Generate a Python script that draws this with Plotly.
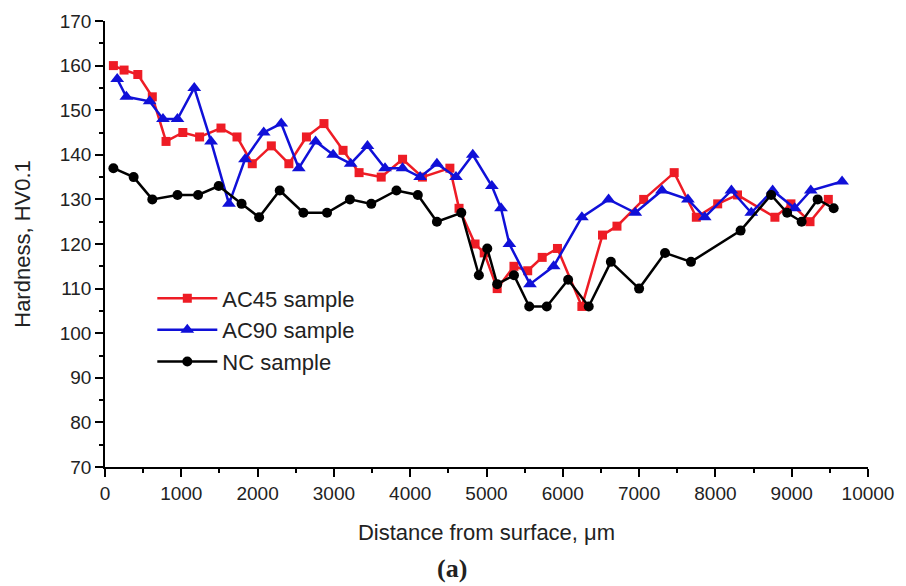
import plotly.graph_objects as go

# AC45 sample (red squares)
ac45_x = [110, 250, 430, 620, 800, 1020, 1240, 1520, 1730, 1930, 2180, 2410, 2640, 2870, 3120,
          3330, 3620, 3900, 4160, 4520, 4640, 4850, 4970, 5140, 5360, 5540, 5730, 5930, 6250,
          6520, 6710, 7060, 7460, 7750, 8030, 8290, 8780, 8990, 9240, 9480]
ac45_y = [160, 159, 158, 153, 143, 145, 144, 146, 144, 138, 142, 138, 144, 147, 141,
          136, 135, 139, 135, 137, 128, 120, 118, 110, 115, 114, 117, 119, 106,
          122, 124, 130, 136, 126, 129, 131, 126, 129, 125, 130]

# AC90 sample (blue triangles)
ac90_x = [160, 280, 585, 760, 950, 1170, 1390, 1625, 1835, 2080, 2310, 2540, 2760, 2990, 3220,
          3440, 3670, 3900, 4130, 4350, 4600, 4820, 5070, 5190, 5300, 5570, 5880, 6250, 6600,
          6950, 7300, 7640, 7860, 8210, 8470, 8750, 9040, 9250, 9660]
ac90_y = [157, 153, 152, 148, 148, 155, 143, 129, 139, 145, 147, 137, 143, 140, 138,
          142, 137, 137, 135, 138, 135, 140, 133, 128, 120, 111, 115, 126, 130,
          127, 132, 130, 126, 132, 127, 132, 128, 132, 134]

# NC sample (black circles)
nc_x = [110, 375, 620, 950, 1220, 1490, 1790, 2020, 2290, 2600, 2910, 3210, 3490, 3820, 4100,
        4350, 4670, 4900, 5010, 5140, 5360, 5560, 5790, 6070, 6340, 6630, 7000, 7340, 7680,
        8330, 8730, 8940, 9130, 9340, 9550]
nc_y = [137, 135, 130, 131, 131, 133, 129, 126, 132, 127, 127, 130, 129, 132, 131,
        125, 127, 113, 119, 111, 113, 106, 106, 112, 106, 116, 110, 118, 116,
        123, 131, 127, 125, 130, 128]

x_ticks = [0, 1000, 2000, 3000, 4000, 5000, 6000, 7000, 8000, 9000, 10000]
y_ticks = [70, 80, 90, 100, 110, 120, 130, 140, 150, 160, 170]

fig = go.Figure()
fig.add_trace(go.Scatter(x=ac45_x, y=ac45_y, mode="lines+markers", name="AC45 sample",
                         legendgroup="a",
                         line=dict(color="#ee1c25", width=2.5),
                         marker=dict(symbol="square", size=9, color="#ee1c25")))
fig.add_trace(go.Scatter(x=ac90_x, y=ac90_y, mode="lines+markers", name="AC90 sample",
                         legendgroup="b",
                         line=dict(color="#1010d8", width=2.5),
                         marker=dict(symbol="triangle-up", size=12, color="#1010d8")))
fig.add_trace(go.Scatter(x=nc_x, y=nc_y, mode="lines+markers", name="NC sample",
                         legendgroup="c",
                         line=dict(color="#000000", width=2.5),
                         marker=dict(symbol="circle", size=10, color="#000000")))

axis_common = dict(showgrid=False, zeroline=False, showline=True, linecolor="black", linewidth=1.5,
                   ticks="outside", tickcolor="black", ticklen=8, tickwidth=1.5,
                   tickfont=dict(family="Arial, Liberation Sans", size=19, color="#222"))

fig.update_xaxes(range=[0, 10000], tickvals=x_ticks, ticktext=[str(v) for v in x_ticks],
                 minor=dict(dtick=500, ticks="outside", ticklen=4, tickcolor="black", tickwidth=1.5),
                 title=dict(text="Distance from surface, \u03bcm", standoff=22,
                            font=dict(family="Arial, Liberation Sans", size=22, color="#222")),
                 **axis_common)
fig.update_yaxes(range=[70, 170], tickvals=y_ticks, ticktext=[str(v) for v in y_ticks],
                 minor=dict(dtick=5, ticks="outside", ticklen=4, tickcolor="black", tickwidth=1.5),
                 title=dict(text="Hardness, HV0.1", standoff=23,
                            font=dict(family="Arial, Liberation Sans", size=22, color="#222")),
                 **axis_common)

fig.add_annotation(text="<b>(a)</b>", x=0.455, y=-0.228, xref="paper", yref="paper",
                   xanchor="center", yanchor="middle", showarrow=False,
                   font=dict(family="Liberation Serif, DejaVu Serif", size=26, color="#222"))

fig.update_layout(
    width=906, height=586,
    margin=dict(l=105, r=38, t=21, b=119),
    plot_bgcolor="white", paper_bgcolor="white",
    legend=dict(x=0.062, y=0.425, xanchor="left", yanchor="top", bgcolor="rgba(0,0,0,0)",
                font=dict(family="Arial, Liberation Sans", size=22, color="#222"),
                traceorder="grouped", tracegroupgap=0, itemwidth=60),
    showlegend=True,
)
fig.write_html("out.html")
